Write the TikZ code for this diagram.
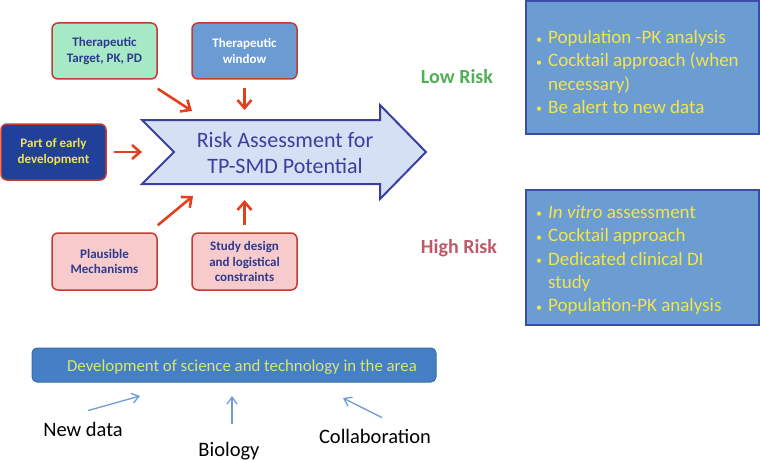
\documentclass[tikz,border=0pt]{standalone}
\usepackage{fontspec}
\setmainfont{Carlito}
\usetikzlibrary{arrows.meta,positioning}
\definecolor{boxred}{HTML}{C53A2E}
\definecolor{boxnavy}{HTML}{2E3A8C}
\definecolor{mint}{HTML}{A7E9C6}
\definecolor{winblue}{HTML}{6B9BD3}
\definecolor{deepblue}{HTML}{21409A}
\definecolor{pinkfill}{HTML}{F7CACB}
\definecolor{txtyellow}{HTML}{F2E64A}
\definecolor{arrred}{HTML}{E2401F}
\definecolor{bigfill}{HTML}{D6E0F4}
\definecolor{bigedge}{HTML}{3B3F9E}
\definecolor{riskfill}{HTML}{6B9CD2}
\definecolor{riskedge}{HTML}{3C4AA8}
\definecolor{lowgreen}{HTML}{52AE57}
\definecolor{highred}{HTML}{BD5A68}
\definecolor{barfill}{HTML}{4580C6}
\definecolor{baredge}{HTML}{3A6BA0}
\definecolor{bartext}{HTML}{D8E86A}
\definecolor{thinblue}{HTML}{6E9CD3}
\tikzset{
  srcbox/.style   = {draw=boxred, line width=1.5pt, rounded corners=6pt,
                     minimum width=105pt, minimum height=56pt, align=center,
                     text=boxnavy, font=\fontsize{13}{15.9}\selectfont\bfseries},
  riskbox/.style  = {draw=riskedge, line width=1.5pt, fill=riskfill,
                     minimum width=233pt, inner sep=0pt},
  bullets/.style  = {align=left, text=txtyellow, inner sep=0pt,
                     font=\fontsize{19}{23.3}\selectfont},
  risklabel/.style= {font=\fontsize{20}{24}\selectfont\bfseries, inner sep=0pt},
  source/.style   = {font=\fontsize{20.5}{25}\selectfont, inner sep=0pt},
  redarr/.style   = {-{Straight Barb[length=8pt,width=14pt]}, line width=2.6pt,
                     draw=arrred},
  bluearr/.style  = {-{Straight Barb[length=7pt,width=10pt]}, line width=1.3pt,
                     draw=thinblue},
}
\newcommand{\bul}{\makebox[12pt][l]{\raisebox{0.5pt}{\fontsize{12}{12}\selectfont\textbullet}}}
\newcommand{\bulsp}{\hspace*{12pt}}

\begin{document}
\begin{tikzpicture}[x=1pt, y=-1pt]
\useasboundingbox (0,0) rectangle (761,460);
% ---- inputs ----
\node[srcbox, fill=mint] (tt) at (104.5,51) {Therapeutic\\Target, PK, PD};
\node[srcbox, fill=winblue, text=white] (tw) at (244.5,51) {Therapeutic\\window};
\node[srcbox, fill=deepblue, text=txtyellow] (part) at (53.5,152)
     {Part of early\\development};
\node[srcbox, fill=pinkfill, minimum height=57pt] (pm) at (104.5,261.5)
     {Plausible\\Mechanisms};
\node[srcbox, fill=pinkfill, minimum height=57pt] (sd) at (244.5,261.5)
     {Study design\\and logistical\\constraints};
% ---- big arrow ----
\draw[line width=2pt, draw=bigedge, fill=bigfill, line join=miter]
     (142,120) -- (380,120) -- (380,105) -- (426,152) -- (380,199)
     -- (380,184) -- (142,184) -- (174,152) -- cycle;
\node[align=center, text=bigedge, font=\fontsize{22}{26.8}\selectfont]
     (risk) at (285,153) {Risk Assessment for\\TP-SMD Potential};
\coordinate (inTT) at (192,111);
\coordinate (inTW) at (244.5,110);
\coordinate (inPart) at (142,152);
\coordinate (inPM) at (193,196);
\coordinate (inSD) at (244.5,200);
\draw[redarr] ([yshift=-9pt]tt.south east) -- (inTT);
\draw[redarr] ([yshift=-8pt]tw.south) -- (inTW);
\draw[redarr] ([xshift=7pt]part.east) -- (inPart);
\draw[redarr] ([yshift=7pt]pm.north east) -- (inPM);
\draw[redarr] ([yshift=7pt]sd.north) -- (inSD);
% ---- outcomes ----
\node[risklabel, text=lowgreen, anchor=base] (low) at (457,84) {Low Risk};
\node[risklabel, text=highred, anchor=base] (high) at (459,253) {High Risk};
\node[riskbox, minimum height=133pt] (lowbox) at (642.5,67.5) {};
\node[riskbox, minimum height=135pt] (highbox) at (642.5,257.5) {};
\node[bullets, anchor=west] (lowtxt) at (536,72)
     {\bul Population -PK analysis\\
      \bul Cocktail approach (when\\
      \bulsp necessary)\\
      \bul Be alert to new data};
\node[bullets, anchor=west] (hightxt) at (536,260)
     {\bul \textit{In vitro} assessment\\
      \bul Cocktail approach\\
      \bul Dedicated clinical DI\\
      \bulsp study\\
      \bul Population-PK analysis};
% ---- science and technology ----
\node[draw=baredge, fill=barfill, line width=1pt, rounded corners=5pt,
      minimum width=404pt, minimum height=34pt] (bar) at (234,365) {};
\node[text=bartext, font=\fontsize{16.8}{20}\selectfont, anchor=base]
     (bartxt) at (242,371) {Development of science and technology in the area};
\node[source, anchor=base] (newdata) at (83,436) {New data};
\node[source, anchor=base] (biology) at (229,456) {Biology};
\node[source, anchor=base] (collab) at (375,443) {Collaboration};
\coordinate (upNew) at (140,396);
\coordinate (upBio) at (232,396);
\coordinate (upCol) at (343,398);
\draw[bluearr] ([xshift=5pt,yshift=11pt]newdata.north) -- (upNew);
\draw[bluearr] ([xshift=3pt,yshift=18pt]biology.north) -- (upBio);
\draw[bluearr] ([xshift=7pt,yshift=11pt]collab.north) -- (upCol);
\end{tikzpicture}
\end{document}
